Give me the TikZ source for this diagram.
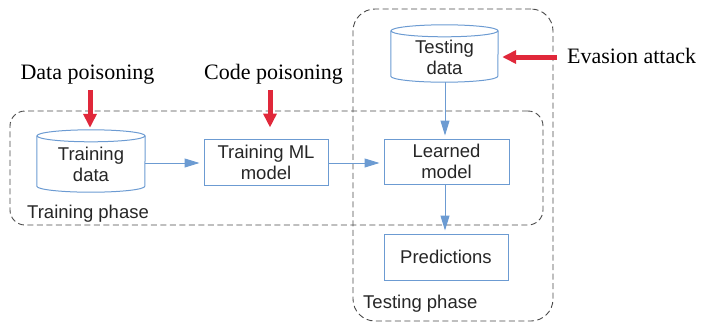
\documentclass[tikz,border=0pt]{standalone}
\usepackage{fontspec}
\setmainfont{Liberation Serif}
\newfontfamily\sansf{Liberation Sans}
\usetikzlibrary{arrows.meta,calc}
\definecolor{lblue}{HTML}{6C9BD2}
\definecolor{ared}{HTML}{E0283A}
\definecolor{dgray}{HTML}{4A4A4A}
\definecolor{tgray}{HTML}{262626}
\begin{document}
\begin{tikzpicture}[x=1pt,y=-1pt,
  box/.style={draw=lblue, line width=1pt, inner sep=0pt, align=center,
    font=\sansf\fontsize{18.5}{21}\selectfont, text=tgray},
  cylbox/.style={inner sep=0pt, align=center,
    font=\sansf\fontsize{18.5}{21}\selectfont, text=tgray},
  cylline/.style={draw=lblue, line width=1pt},
  phase/.style={draw=dgray, line width=0.9pt, dash pattern=on 6pt off 3.5pt, inner sep=0pt},
  phaselabel/.style={font=\sansf\fontsize{18.5}{21}\selectfont, text=tgray, inner sep=0pt, anchor=base west},
  attack/.style={font=\fontsize{22}{24}\selectfont, text=black, inner sep=0pt, anchor=base},
  bluearrow/.style={draw=lblue, line width=1pt, shorten >=4pt, -{Triangle[length=15pt,width=9pt]}},
  redarrow/.style={draw=ared, line width=5pt, -{Triangle[length=14pt,width=13pt]}}
]
\useasboundingbox (0,0) rectangle (701,322);

% phase containers
\node[phase, rounded corners=15pt, minimum width=533pt, minimum height=114pt] (trainphase) at (276.5,168) {};
\node[phase, rounded corners=22pt, minimum width=200pt, minimum height=312pt] (testphase) at (453,165) {};
\node[phaselabel] (trainlbl) at (27,218) {Training phase};
\node[phaselabel] (testlbl) at (363,308) {Testing phase};

% cylinders
\node[cylbox, minimum width=108pt, minimum height=62pt] (td) at (91,161) {};
\node[cylbox] (tdtext) at (91,164) {Training\\data};
\node[cylbox, minimum width=107pt, minimum height=57pt] (ted) at (444.5,53.5) {};
\node[cylbox] (tedtext) at (444.5,57) {Testing\\data};

\foreach \n/\rx in {td/54pt, ted/53.5pt}{
  \draw[cylline] ($(\n.north west)+(0,6)$) -- ($(\n.south west)+(0,-6)$)
     arc[start angle=180, end angle=360, x radius=\rx, y radius=6pt]
     -- ($(\n.north east)+(0,6)$);
  \draw[cylline] ($(\n.north)+(0,6)$) ellipse[x radius=\rx, y radius=6pt];
}

% boxes
\node[box, minimum width=124pt, minimum height=46pt] (tml) at (266,162) {Training ML\\model};
\node[box, minimum width=125pt, minimum height=45pt] (lm) at (446.5,161.5) {Learned\\model};
\node[box, minimum width=124pt, minimum height=46pt] (pred) at (446,257) {Predictions};

% blue connectors
\draw[bluearrow] (td.east |- 0,163) -- (tml.west |- 0,163);
\draw[bluearrow] (tml.east |- 0,163) -- (lm.west |- 0,163);
\draw[bluearrow, shorten >=3pt] (ted.south -| 445,0) -- (lm.north -| 445,0);
\draw[bluearrow, shorten >=3pt] (lm.south -| 445,0) -- (pred.north -| 445,0);

% attack labels
\node[attack] (dplbl) at (87.5,79) {Data poisoning};
\node[attack] (cplbl) at (273.5,79) {Code poisoning};
\node[attack, anchor=base west] (evlbl) at (567,63) {Evasion attack};

% red arrows
\coordinate (dp) at (90,90);
\coordinate (cp) at (270,90);
\coordinate (ev) at (557,57);
\draw[redarrow, shorten >=2pt] (dp) -- (dp |- td.north);
\draw[redarrow, shorten >=11pt] (cp) -- (cp |- tml.north);
\draw[redarrow, shorten >=4pt] (ev) -- (ev -| ted.east);
\end{tikzpicture}
\end{document}
